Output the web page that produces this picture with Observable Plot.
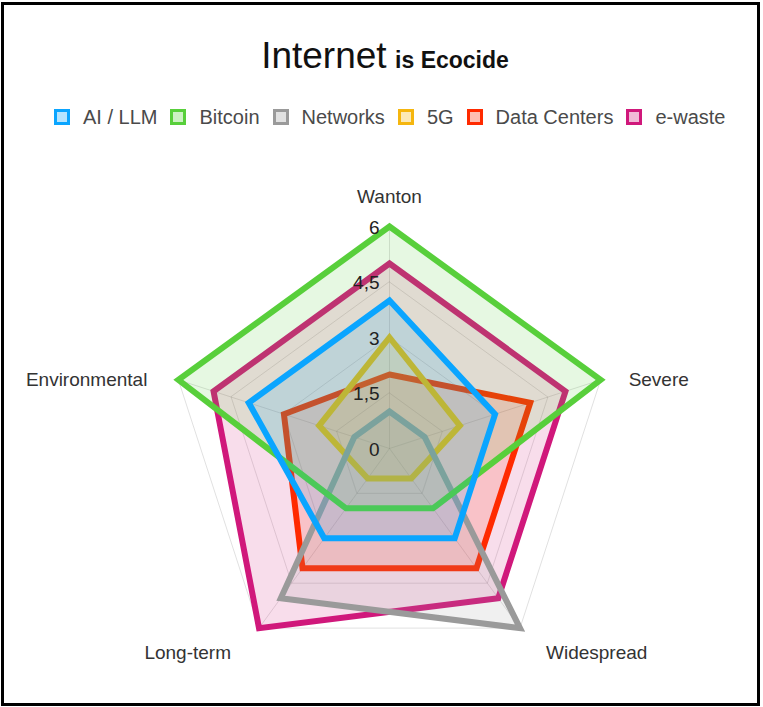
<!DOCTYPE html>
<html>
<head>
<meta charset="utf-8">
<script src="https://cdn.jsdelivr.net/npm/d3@7"></script>
<script src="https://cdn.jsdelivr.net/npm/@observablehq/plot@0.6"></script>
<style>
  body { margin: 0; background: #fff; font-family: "Liberation Sans", Arial, sans-serif; }
  #wrap { position: relative; width: 763px; height: 707px; overflow: hidden; background: #fff; }
  #chart { position: absolute; left: 0; top: 0; }
  #title { position: absolute; left: 0; width: 770px; top: 37px; text-align: center; line-height: 37px; white-space: nowrap; color: #111; }
  #title .big { font-size: 37px; }
  #title .small { font-size: 23px; font-weight: bold; margin-left: 4px; }
  #legend { position: absolute; left: 54px; top: 107px; height: 20px; display: flex; align-items: center; white-space: nowrap; font-size: 20px; color: #4a4a4a; }
  #legend .box { width: 16px; height: 16px; box-sizing: border-box; border: 3px solid; margin-right: 13px; }
  #legend .txt { margin-right: 13px; }
  #border { position: absolute; left: 1px; top: 2px; right: 3px; bottom: 1px; border: 3px solid #000; pointer-events: none; }
</style>
</head>
<body>
<div id="wrap">
  <div id="chart"></div>
  <div id="title"><span class="big">Internet</span> <span class="small">is Ecocide</span></div>
  <div id="legend"></div>
  <div id="border"></div>
</div>
<script>
// ---- data ----
const axes = ["Wanton", "Severe", "Widespread", "Long-term", "Environmental"];
const seriesNames = ["AI / LLM", "Bitcoin", "Networks", "5G", "Data Centers", "e-waste"];
const aiValues = [4, 3, 3, 3, 4];
const bitcoinValues = [6, 6, 2, 2, 6];
const networksValues = [1, 1, 6, 5, 1];
const fiveGValues = [3, 2, 1, 1, 2];
const dataCentersValues = [2, 4, 4, 4, 3];
const eWasteValues = [5, 5, 5, 6, 5];
const tickValues = [0, 1.5, 3, 4.5, 6];
const tickLabels = ["0", "1,5", "3", "4,5", "6"];

// ---- styles ----
const colors = ["#0aa5ff", "#58cf3b", "#9a9a9a", "#f5b60f", "#ff2a00", "#d0187b"];
const allValues = [aiValues, bitcoinValues, networksValues, fiveGValues, dataCentersValues, eWasteValues];
const rMax = d3.max(tickValues);

const W = 763, H = 707, cx = 389, cy = 448, pxPerUnit = 222 / rMax;
const n = axes.length;
const angle = i => Math.PI / 2 - i * 2 * Math.PI / n;
const pt = (v, i) => ({x: v * Math.cos(angle(i)), y: v * Math.sin(angle(i))});

// legend (HTML)
const legend = document.getElementById("legend");
seriesNames.forEach((s, i) => {
  const b = document.createElement("span");
  b.className = "box";
  b.style.borderColor = colors[i];
  const c = d3.color(colors[i]); c.opacity = 0.3;
  b.style.background = c.formatRgb();
  const t = document.createElement("span");
  t.className = "txt";
  t.textContent = s;
  legend.appendChild(b); legend.appendChild(t);
});

// grid
const ringData = tickValues.filter(t => t > 0).flatMap(t => axes.map((a, i) => ({...pt(t, i), ring: t})));
const spokeData = axes.map((a, i) => ({x2: pt(rMax, i).x, y2: pt(rMax, i).y}));

const marks = [
  Plot.line(ringData, {x: "x", y: "y", z: "ring", curve: "linear-closed", stroke: "#000", strokeOpacity: 0.12, strokeWidth: 1}),
  Plot.link(spokeData, {x1: () => 0, y1: () => 0, x2: "x2", y2: "y2", stroke: "#000", strokeOpacity: 0.12, strokeWidth: 1})
];

// series, drawn last-to-first so the first series ends on top
for (let s = seriesNames.length - 1; s >= 0; s--) {
  const pts = allValues[s].map((v, i) => ({...pt(v, i), axis: axes[i], series: seriesNames[s]}));
  marks.push(Plot.line(pts, {
    x: "x", y: "y", curve: "linear-closed",
    stroke: colors[s], strokeWidth: 6, strokeLinejoin: "miter", strokeMiterlimit: 10,
    fill: colors[s], fillOpacity: 0.15
  }));
}

// axis (point) labels
axes.forEach((a, i) => {
  const c = Math.cos(angle(i)), s = Math.sin(angle(i));
  const p = pt(rMax, i);
  let anchor = "middle", dx = 0, dy = 0;
  if (c > 0.3) { anchor = "start"; dx = 28; }
  else if (c < -0.3) { anchor = "end"; dx = -31; }
  if (s > 0.9) dy = -30;
  else if (s < -0.5) { dy = 25; dx = c > 0 ? 26 : -28; }
  marks.push(Plot.text([a], {x: () => p.x, y: () => p.y, text: d => d, textAnchor: anchor, dx, dy, fontSize: 19, fill: "#333"}));
});

// tick labels
marks.push(Plot.text(tickValues, {x: () => 0, y: d => d, text: (d, i) => tickLabels[i], textAnchor: "end", dx: -10, dy: 1, fontSize: 19, fill: "#222"}));

const chart = Plot.plot({
  width: W, height: H,
  margin: 0,
  x: {domain: [-cx / pxPerUnit, (W - cx) / pxPerUnit], range: [0, W], axis: null},
  y: {domain: [-(H - cy) / pxPerUnit, cy / pxPerUnit], range: [H, 0], axis: null},
  style: {fontFamily: "'Liberation Sans', Arial, sans-serif", background: "#fff"},
  marks
});
document.getElementById("chart").appendChild(chart);
</script>
</body>
</html>
